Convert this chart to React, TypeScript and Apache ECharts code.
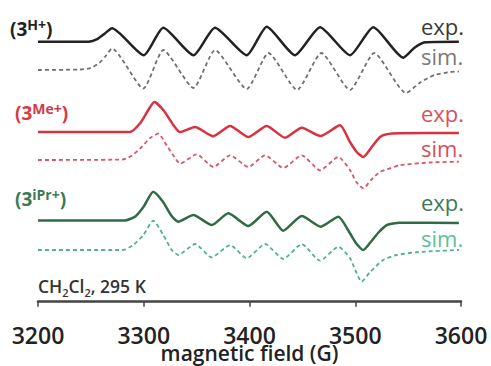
import React, { useEffect, useRef } from "react";
import * as echarts from "echarts";

// x axis (magnetic field, G)
const X_MIN = 3200;
const X_MAX = 3600;
const X_STEP = 100;

// [field (G), intensity (arb.)] pairs, relative to each trace's baseline
const H_EXP: number[][] = [
  [3200, 0], [3248, 0], [3256, 2.5], [3263, 8], [3270, 13.5], [3300, -13.5], [3318.5, 14], [3347, -13.5],
  [3367.4, 14], [3397.4, -13.5], [3416.3, 15], [3443, -13.5], [3466.7, 14.5], [3495, -13.5], [3517.1, 14.5],
  [3545.4, -16], [3556, -6], [3566, -0.5], [3598, 0],
];
const H_SIM: number[][] = [
  [3200, 0], [3240, 0.5], [3250, 2], [3258, 7], [3264, 14], [3270, 21.5], [3299.6, -18.5], [3318.5, 20],
  [3347, -18], [3367.4, 20], [3397.4, -19], [3418, 17], [3445, -20], [3468, 17], [3495, -20], [3518, 17],
  [3548, -23], [3562, -12], [3575, -5], [3590, -2], [3598, -1.5],
];
const ME_EXP: number[][] = [
  [3200, 0], [3287, 0], [3296.5, 8.7], [3304.3, 22], [3310, 30], [3318.5, 22], [3328, 7], [3334.3, 0],
  [3348.5, 5], [3365.8, -4.3], [3381.6, 6], [3398.9, -5], [3416.3, 6], [3433.6, -5.7], [3449.4, 4.3],
  [3467.1, -4], [3485.6, 6.7], [3495, -10], [3501.4, -20], [3507.6, -25], [3515.6, -15], [3523.4, -5],
  [3529.7, -2.3], [3542, -1.3], [3598, -1],
];
const ME_SIM: number[][] = [
  [3200, 0], [3280, 0.5], [3289, 4.5], [3298, 13], [3306, 22], [3313.8, 26.3], [3322, 14], [3329, 3],
  [3334.3, -3.7], [3350, 5.7], [3365.8, -7], [3381.6, 4.7], [3398.9, -7], [3414.7, 4.7], [3432, -8],
  [3449.4, 4.7], [3466.7, -10.3], [3484, 3], [3495, -10], [3501, -22], [3507.6, -28.3], [3515, -20],
  [3523.4, -12], [3542.3, -5.3], [3570, -2.5], [3598, -1.7],
];
const IPR_EXP: number[][] = [
  [3200, 1], [3282, 1], [3292, 5], [3300, 15], [3309, 29.8], [3318, 20], [3326, 6], [3332.7, -0.2],
  [3346.9, 6.5], [3364.3, -3.5], [3380, 8.2], [3398.9, -4.5], [3416.3, 9.8], [3432, -9.2], [3449.4, 5.5],
  [3467.4, -5.2], [3484, 4.8], [3495, -11.8], [3501, -22], [3507.6, -28.5], [3515, -20], [3522, -11],
  [3530, -3.5], [3542, -1.2], [3598, -1.5],
];
const IPR_SIM: number[][] = [
  [3200, 0], [3280, 0], [3290, 5], [3299.6, 15], [3309, 29.3], [3318.5, 15], [3326.4, 0], [3332.7, -5],
  [3348.5, 6], [3364.3, -7.3], [3381.6, 5], [3397.4, -8.3], [3414.7, 6], [3432, -9], [3449.4, 6],
  [3466.7, -10.7], [3484, 3.3], [3495, -8], [3500, -20], [3506, -31.7], [3514, -22], [3526.5, -10],
  [3539.2, -5], [3560, -2], [3598, 0],
];

// vertical stacking offsets of each trace (arb. units)
const OFFSETS = { hExp: 260, hSim: 231.7, meExp: 169.7, meSim: 141.7, iprExp: 80.2, iprSim: 51.7 };

const AXIS_NAME = "magnetic field (G)";
const SOLVENT_LABEL = "{t|CH}{s|2}{t|Cl}{s|2}{t|, 295 K}";

const FONT = "'Open Sans', 'DejaVu Sans', sans-serif";

function shift(data: number[][], off: number) {
  return data.map(([x, y]) => [x, y + off]);
}

function label(sup: string, color: string, x: number, y: number) {
  return {
    type: "text",
    x,
    y,
    style: {
      text: `{a|(3}{b|${sup}}{a|)}`,
      verticalAlign: "middle",
      rich: {
        a: { fontSize: 19, fontWeight: "bold", fontFamily: FONT, fill: color, lineHeight: 24 },
        b: { fontSize: 14, fontWeight: "bold", fontFamily: FONT, fill: color, verticalAlign: "top", lineHeight: 16 },
      },
    },
  };
}

function word(text: string, color: string, x: number, y: number) {
  return {
    type: "text",
    x,
    y,
    style: { text, fontSize: 22, fontFamily: FONT, fill: color, verticalAlign: "middle", align: "left" },
  };
}

export default function App() {
  const ref = useRef<HTMLDivElement>(null);
  useEffect(() => {
    const chart = echarts.init(ref.current!, null, { renderer: "svg" });
    const line = (data: number[][], color: string, dashed: boolean) => ({
      type: "line",
      data,
      showSymbol: false,
      smooth: 0.2,
      lineStyle: dashed
        ? { color, width: 1.8, type: [4, 3] }
        : { color, width: 2.5 },
      silent: true,
    });
    chart.setOption({
      animation: false,
      grid: { left: 38, right: 30, top: 10, bottom: 64.3, outerBoundsMode: "none", containLabel: false },
      xAxis: {
        type: "value",
        min: X_MIN,
        max: X_MAX,
        interval: X_STEP,
        name: AXIS_NAME,
        nameLocation: "middle",
        nameGap: 40,
        nameMoveOverlap: false,
        nameTextStyle: { fontSize: 21, fontWeight: 600, color: "#222", fontFamily: FONT, lineHeight: 22 },
        axisLine: { show: true, lineStyle: { color: "#444", width: 2.5 } },
        axisTick: { show: true, inside: false, length: 5, lineStyle: { color: "#444", width: 1.5 } },
        axisLabel: {
          fontSize: 23, fontWeight: 600, color: "#222", fontFamily: FONT, margin: 22,
          showMaxLabel: true, showMinLabel: true,
          formatter: (v: number) => String(v),
        },
        splitLine: { show: false },
      },
      yAxis: { type: "value", min: 0, max: 291.7, show: false },
      series: [
        line(shift(H_EXP, OFFSETS.hExp), "#222222", false),
        line(shift(H_SIM, OFFSETS.hSim), "#707070", true),
        line(shift(ME_EXP, OFFSETS.meExp), "#d8323f", false),
        line(shift(ME_SIM, OFFSETS.meSim), "#d45a6a", true),
        line(shift(IPR_EXP, OFFSETS.iprExp), "#2f6b47", false),
        line(shift(IPR_SIM, OFFSETS.iprSim), "#4fb38c", true),
      ],
      graphic: [
        label("H+", "#222222", 10, 29),
        label("Me+", "#d63a48", 15, 113),
        label("iPr+", "#3a7a55", 15, 199),
        word("exp.", "#3a3a3a", 421, 26),
        word("sim.", "#7a7a7a", 421, 56),
        word("exp.", "#d8505a", 421, 113),
        word("sim.", "#d8505a", 421, 148),
        word("exp.", "#3e7a58", 421, 202),
        word("sim.", "#5cbf9c", 421, 238),
        {
          type: "text",
          x: 38,
          y: 286,
          style: {
            text: SOLVENT_LABEL,
            verticalAlign: "middle",
            rich: {
              t: { fontSize: 17.5, fontWeight: 600, fontFamily: FONT, fill: "#333", lineHeight: 20 },
              s: { fontSize: 11, fontWeight: 600, fontFamily: FONT, fill: "#333", verticalAlign: "bottom", lineHeight: 11, padding: [0, 0, -2, 0] },
            },
          },
        },
      ],
    });
    return () => chart.dispose();
  }, []);
  return <div ref={ref} style={{ position: "absolute", left: 0, top: 0, width: 491, height: 366 }} />;
}
